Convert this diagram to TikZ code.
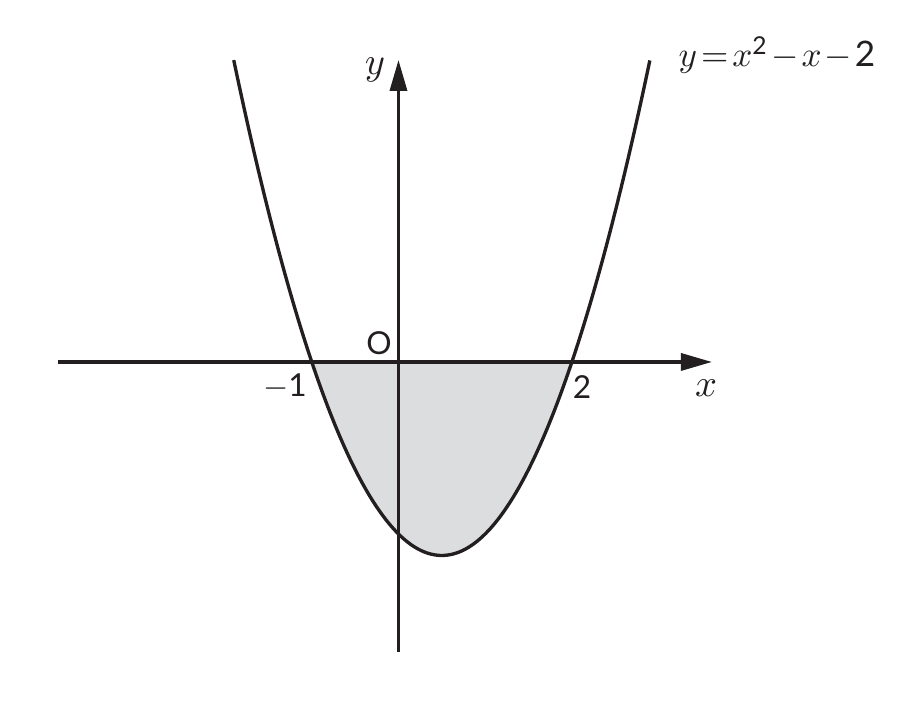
\documentclass[tikz,border=0pt]{standalone}
\usepackage{amssymb,amsmath}
\usepackage{fontspec}
\newfontfamily\gillfont{Lato}
\usetikzlibrary{arrows.meta}

\definecolor{areagrey}{HTML}{DCDDDF}
\definecolor{inkblack}{HTML}{231F20}

\newcommand{\sfnum}[1]{\text{\gillfont #1}}

\tikzset{
  axisline/.style={draw=inkblack, line width=0.95pt, -{Triangle[length=3.1mm,width=1.7mm]}},
  curveline/.style={draw=inkblack, line width=0.95pt},
  numlabel/.style={font=\gillfont\fontsize{9}{11}\selectfont, text=inkblack, inner sep=0pt},
  varlabel/.style={font=\fontsize{10.5}{12}\selectfont, text=inkblack, inner sep=0pt}
}

\begin{document}
\begin{tikzpicture}[x=0.867cm, y=0.86cm]
\useasboundingbox (-4.596,-4.035) rectangle (5.796,4.209);

% area under the x-axis
\fill[areagrey] plot[domain=-1:2, samples=60, smooth] (\x, {(\x)*(\x)-(\x)-2}) -- cycle;

\coordinate (xstart) at (-3.927,0);
\coordinate (xend) at (3.616,0);
\coordinate (ystart) at (0,-3.372);
\coordinate (yend) at (0,3.512);
\draw[axisline] (xstart) -- (xend);
\draw[axisline] (ystart) -- (yend);

\draw[curveline] plot[domain=-1.9:2.9, samples=100, smooth] (\x, {(\x)*(\x)-(\x)-2});

\node[varlabel] (ylabel) at (-0.271,3.395) {$y$};
\node[varlabel] (xlabel) at (3.547,-0.302) {$x$};
\node[numlabel] (origin) at (-0.225,0.221) {O};
\node[numlabel] (minusone) at (-1.309,-0.291) {$-$1};
\node[numlabel] (two) at (2.116,-0.291) {2};
\node[varlabel, font=\fontsize{10}{12}\selectfont, anchor=base west] (curvename) at (3.224,3.43)
     {\thickmuskip=2mu \medmuskip=1.5mu $y = x^{\sfnum{2}} - x - \sfnum{2}$};

\end{tikzpicture}
\end{document}
